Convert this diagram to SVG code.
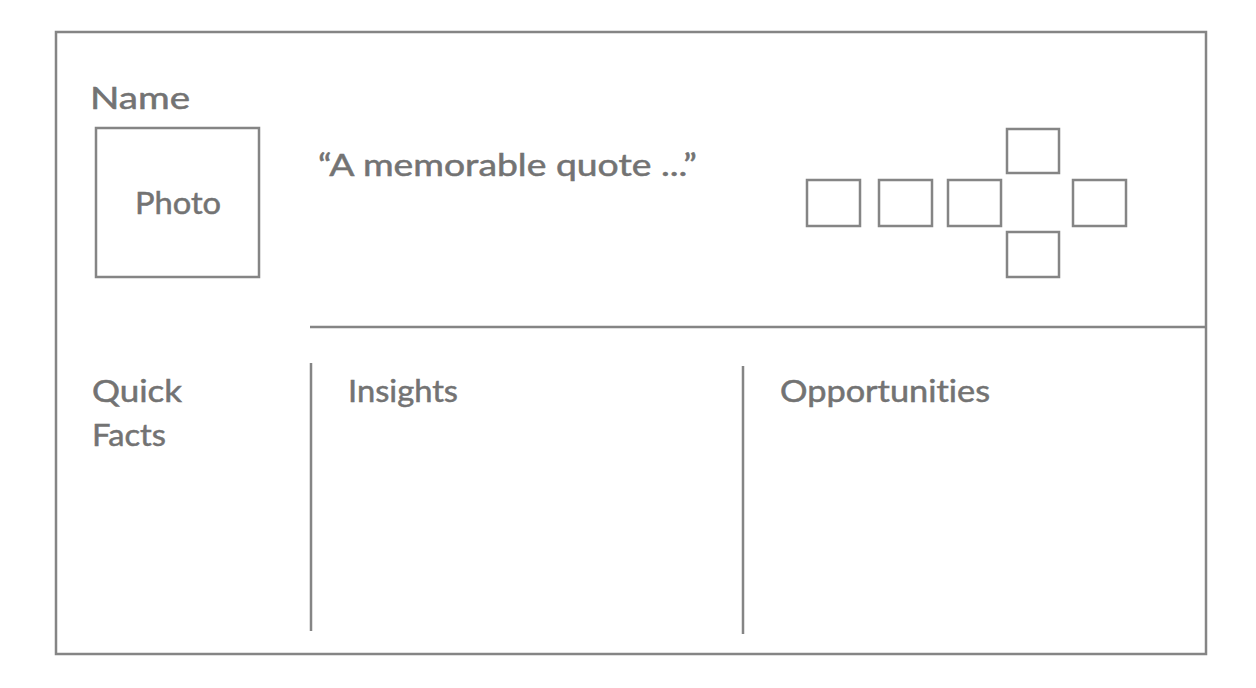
<svg xmlns="http://www.w3.org/2000/svg" width="1256" height="688" viewBox="0 0 1256 688">
<style>
.ln{stroke:#858585;stroke-width:2.5;fill:none}
.bx{stroke:#858585;stroke-width:2.5;fill:#fff}
.t{font-family:Lato,"Open Sans","Liberation Sans",sans-serif;fill:#737373;font-size:30px;font-variant-ligatures:none;stroke:#737373;stroke-width:0.5}
</style>
<rect width="1256" height="688" fill="#fff"/>
<g id="frame"><rect class="bx" x="56" y="32" width="1150" height="622"/></g>
<g id="connectors">
<line class="ln" x1="310" y1="327" x2="1205" y2="327"/>
<line class="ln" x1="311" y1="363" x2="311" y2="631"/>
<line class="ln" x1="743" y1="366" x2="743" y2="634"/>
</g>
<g id="name"><text class="t" x="90" y="109" textLength="100" lengthAdjust="spacingAndGlyphs">Name</text></g>
<g id="photo"><rect class="bx" x="96" y="128" width="163" height="149"/><text class="t" x="135" y="214" font-size="28" textLength="86" lengthAdjust="spacingAndGlyphs">Photo</text></g>
<g id="quote"><text class="t" x="318" y="176" font-size="28" textLength="379" lengthAdjust="spacingAndGlyphs">“A memorable quote ...”</text></g>
<g id="boxes">
<rect class="bx" x="807" y="180" width="53" height="46"/>
<rect class="bx" x="879" y="180" width="53" height="46"/>
<rect class="bx" x="948" y="180" width="53" height="46"/>
<rect class="bx" x="1007" y="129" width="52" height="44"/>
<rect class="bx" x="1073" y="180" width="53" height="46"/>
<rect class="bx" x="1007" y="232" width="52" height="45"/>
</g>
<g id="quickfacts"><text class="t" x="92" y="402" textLength="90" lengthAdjust="spacingAndGlyphs">Quick</text><text class="t" x="92" y="446" textLength="74" lengthAdjust="spacingAndGlyphs">Facts</text></g>
<g id="insights"><text class="t" x="348" y="402" textLength="110" lengthAdjust="spacingAndGlyphs">Insights</text></g>
<g id="opportunities"><text class="t" x="780" y="402" textLength="210" lengthAdjust="spacingAndGlyphs">Opportunities</text></g>
</svg>
